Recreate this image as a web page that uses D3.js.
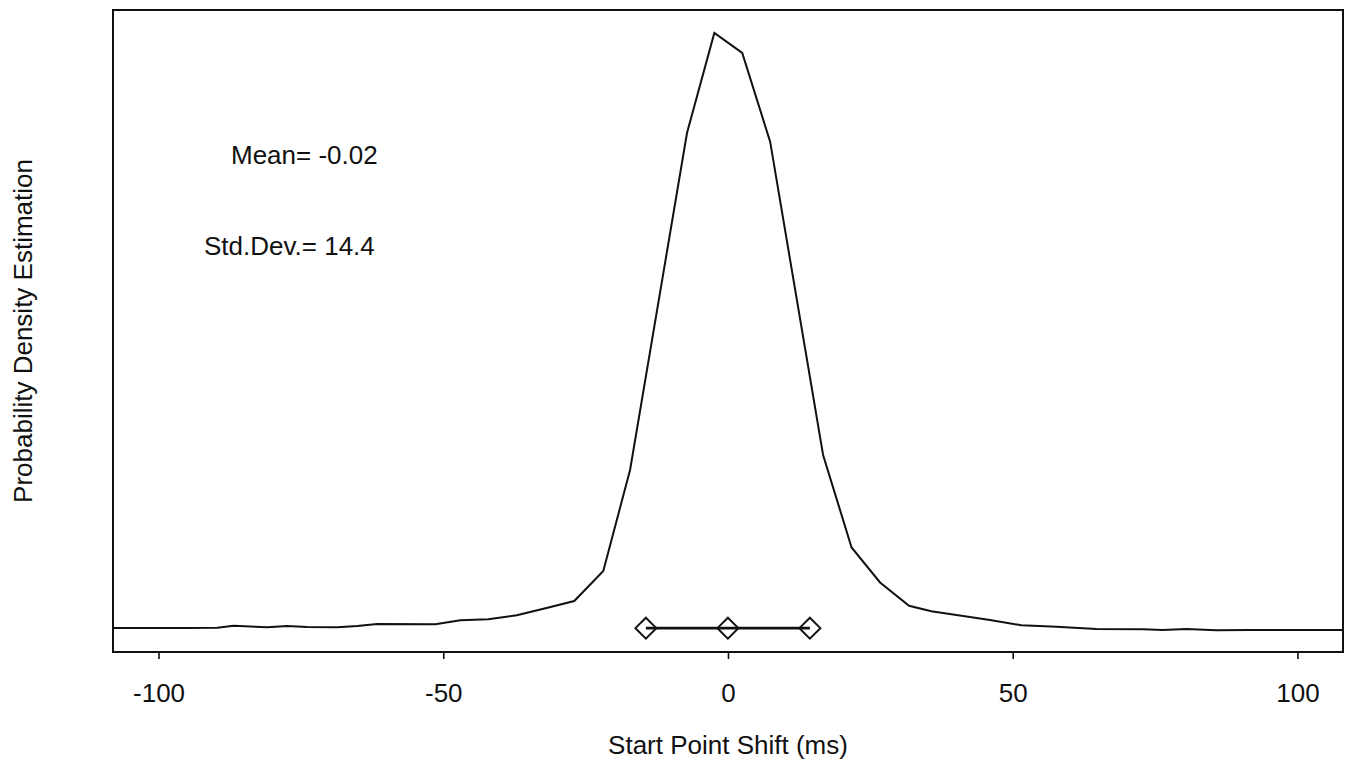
<!DOCTYPE html>
<html>
<head>
<meta charset="utf-8">
<script src="https://cdn.jsdelivr.net/npm/d3@7"></script>
<style>
  html, body { margin: 0; padding: 0; background: #fff; }
  svg { display: block; }
  text { font-family: "Liberation Sans", Arial, Helvetica, sans-serif; fill: #111; }
</style>
</head>
<body>
<svg id="chart" width="1353" height="764"></svg>
<script>
// Start point shift (ms) and its estimated probability density
const shiftMs = [-107.9, -95.8, -89.7, -86.8, -80.9, -77.4, -73.9, -68.6, -65.1, -61.6,
  -51.4, -47.0, -42.1, -37.1, -32.4, -27.0, -21.9, -17.2, -7.2, -2.4,
  2.5, 7.4, 16.7, 21.7, 26.7, 31.8, 35.7, 41.3, 46.0, 51.5,
  57.7, 64.7, 72.9, 76.3, 80.5, 85.7, 91.6, 107.9];
const density = [0.00131, 0.00131, 0.00132, 0.00143, 0.00135, 0.00142, 0.00136, 0.00135, 0.00142, 0.00153,
  0.00151, 0.00173, 0.00178, 0.00200, 0.00236, 0.00278, 0.00442, 0.00992, 0.02829, 0.03375,
  0.03266, 0.02782, 0.01074, 0.00570, 0.00379, 0.00252, 0.00222, 0.00196, 0.00174, 0.00146,
  0.00138, 0.00125, 0.00124, 0.00120, 0.00125, 0.00118, 0.00120, 0.00120];

// Summary statistics
const meanValue = -0.02;
const stdDev = 14.4;
const markerLevel = 0.00130;

const xTicks = [-100, -50, 0, 50, 100];
const xTitle = "Start Point Shift (ms)";
const yTitle = "Probability Density Estimation";

const svg = d3.select("#chart");
const plot = { left: 113, top: 10, right: 1343, bottom: 652 };
const fontSize = "26px";

const x = d3.scaleLinear().domain([-108, 108]).range([plot.left, plot.right]);
const y = d3.scaleLinear().domain([0, 0.035]).range([plot.bottom, plot.top]);

// Frame
svg.append("rect")
  .attr("x", plot.left).attr("y", plot.top)
  .attr("width", plot.right - plot.left).attr("height", plot.bottom - plot.top)
  .attr("fill", "none").attr("stroke", "#111").attr("stroke-width", 2);

// Bottom axis (plain hyphen for negative labels)
const xAxis = d3.axisBottom(x).tickValues(xTicks).tickSize(7).tickPadding(25)
  .tickFormat(d => String(d));
const gx = svg.append("g").attr("transform", `translate(0,${plot.bottom})`).call(xAxis);
gx.select(".domain").remove();
gx.selectAll(".tick line").attr("stroke", "#111").attr("stroke-width", 1.6);
gx.selectAll(".tick text")
  .style("font-family", "'Liberation Sans', Arial, sans-serif")
  .style("font-size", fontSize).attr("fill", "#111");

// Axis titles
svg.append("text")
  .attr("x", x(0)).attr("y", 754)
  .attr("text-anchor", "middle").style("font-size", fontSize)
  .text(xTitle);

svg.append("text")
  .attr("transform", `translate(32,${(plot.top + plot.bottom) / 2}) rotate(-90)`)
  .attr("text-anchor", "middle").style("font-size", fontSize)
  .text(yTitle);

// Density curve
const line = d3.line().x((d, i) => x(shiftMs[i])).y(d => y(d));
svg.append("path")
  .datum(density)
  .attr("d", line)
  .attr("fill", "none").attr("stroke", "#111")
  .attr("stroke-width", 2).attr("stroke-linejoin", "miter");

// Mean ± one standard deviation
const markers = [meanValue - stdDev, meanValue, meanValue + stdDev];
svg.append("line")
  .attr("x1", x(markers[0])).attr("x2", x(markers[2]))
  .attr("y1", y(markerLevel)).attr("y2", y(markerLevel))
  .attr("stroke", "#111").attr("stroke-width", 2.8);

const diamond = d3.symbol().type(d3.symbolDiamond2).size(280);
svg.selectAll("path.marker")
  .data(markers)
  .join("path")
  .attr("class", "marker")
  .attr("d", diamond)
  .attr("transform", d => `translate(${x(d)},${y(markerLevel)})`)
  .attr("fill", "none").attr("stroke", "#111").attr("stroke-width", 2);

// Statistics annotation
svg.append("text").attr("x", 231).attr("y", 164).style("font-size", fontSize)
  .text(`Mean= ${meanValue.toFixed(2)}`);
svg.append("text").attr("x", 204).attr("y", 255).style("font-size", fontSize)
  .text(`Std.Dev.= ${stdDev.toFixed(1)}`);
</script>
</body>
</html>
